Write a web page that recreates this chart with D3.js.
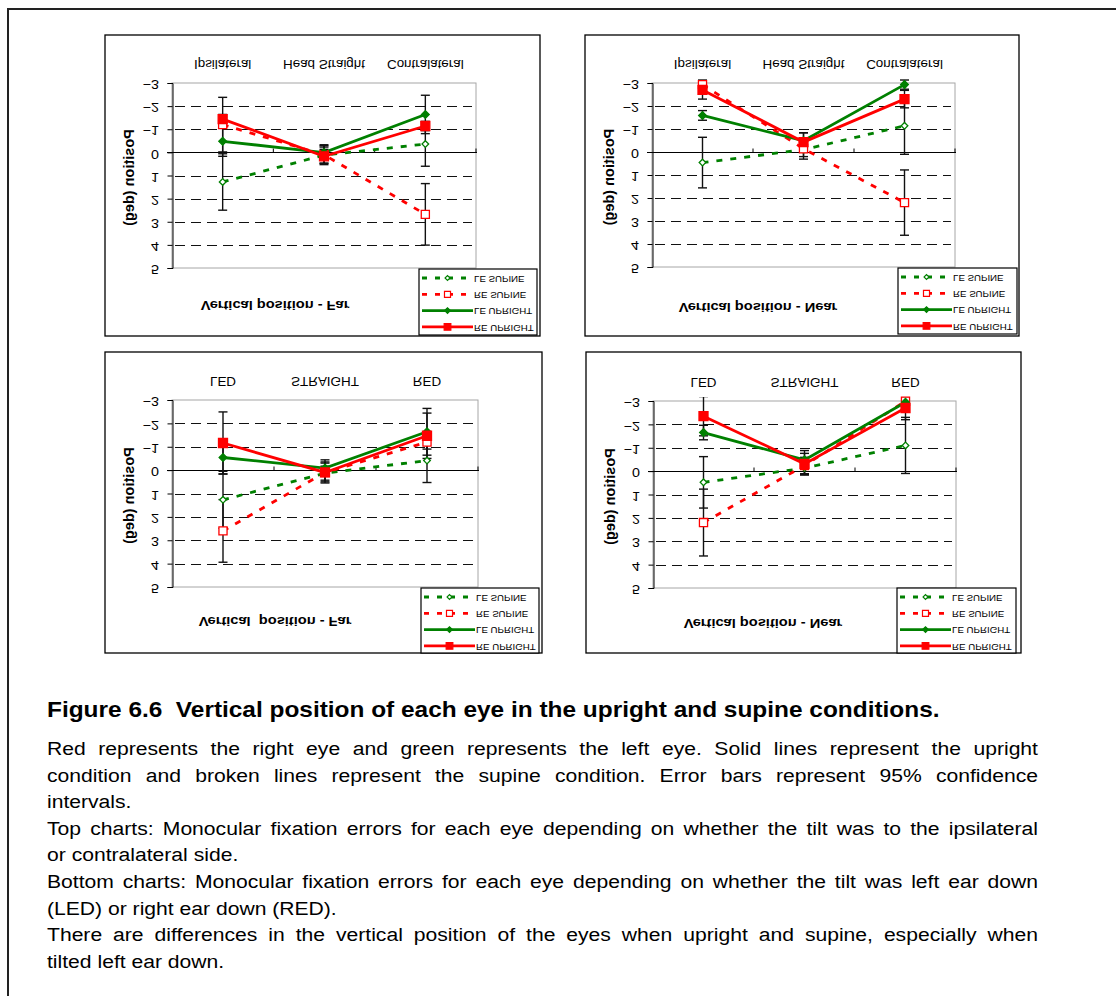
<!DOCTYPE html>
<html><head><meta charset="utf-8">
<script src="https://cdn.jsdelivr.net/npm/d3@7"></script>
<style>
html,body{margin:0;padding:0;background:#fff;}
svg{display:block;font-family:"Liberation Sans",Arial,Helvetica,sans-serif;}
</style>
</head><body>
<svg id="fig" width="1116" height="996"></svg>
<script>
// ---------------- DATA ----------------
const seriesNames = ["LE SUPINE", "RE SUPINE", "LE UPRIGHT", "RE UPRIGHT"];
const categoriesTilt = ["Ipsilateral", "Head Straight", "Contralateral"];
const categoriesEar = ["LED", "STRAIGHT", "RED"];
const yTickValues = [-3, -2, -1, 0, 1, 2, 3, 4, 5];
const panelTitles = ["Vertical position - Far", "Vertical position - Near", "Vertical  position - Far", "Vertical position - Near"];

// Top-left: Far, ipsilateral / contralateral
const farTiltLeSupine  = [1.28, 0.12, -0.36];
const farTiltReSupine  = [-1.20, 0.10, 2.68];
const farTiltLeUpright = [-0.48, 0.01, -1.64];
const farTiltReUpright = [-1.44, 0.17, -1.14];
const farTiltLeSupineErr  = [1.22, 0.35, 0.96];
const farTiltReSupineErr  = [1.18, 0.43, 1.33];
const farTiltLeUprightErr = [0.65, 0.30, 0.83];
const farTiltReUprightErr = [0.20, 0.30, 0.20];

// Top-right: Near, ipsilateral / contralateral
const nearTiltLeSupine  = [0.46, -0.10, -1.14];
const nearTiltReSupine  = [-2.93, -0.14, 2.20];
const nearTiltLeUpright = [-1.59, -0.49, -2.93];
const nearTiltReUpright = [-2.70, -0.43, -2.30];
const nearTiltLeSupineErr  = [1.10, 0.30, 1.24];
const nearTiltReSupineErr  = [0.20, 0.45, 1.42];
const nearTiltLeUprightErr = [0.21, 0.35, 0.20];
const nearTiltReUprightErr = [0.40, 0.40, 0.38];

// Bottom-left: Far, LED / RED
const farEarLeSupine  = [1.27, 0.13, -0.41];
const farEarReSupine  = [2.60, 0.10, -1.20];
const farEarLeUpright = [-0.54, -0.09, -1.64];
const farEarReUpright = [-1.16, 0.10, -1.47];
const farEarLeSupineErr  = [1.22, 0.30, 0.94];
const farEarReSupineErr  = [1.34, 0.45, 0.30];
const farEarLeUprightErr = [0.70, 0.35, 1.00];
const farEarReUprightErr = [1.33, 0.40, 0.97];

// Bottom-right: Near, LED / RED
const nearEarLeSupine  = [0.48, -0.13, -1.10];
const nearEarReSupine  = [2.20, -0.24, -2.99];
const nearEarLeUpright = [-1.65, -0.48, -2.95];
const nearEarReUpright = [-2.35, -0.31, -2.70];
const nearEarLeSupineErr  = [1.10, 0.30, 1.20];
const nearEarReSupineErr  = [1.43, 0.35, 0.17];
const nearEarLeUprightErr = [0.31, 0.40, 0.20];
const nearEarReUprightErr = [0.84, 0.45, 0.50];

const captionTitle = "Figure 6.6  Vertical position of each eye in the upright and supine conditions.";
const captionLines = [
  "Red represents the right eye and green represents the left eye. Solid lines represent the upright",
  "condition and broken lines represent the supine condition. Error bars represent 95% confidence",
  "intervals.",
  "Top charts: Monocular fixation errors for each eye depending on whether the tilt was to the ipsilateral",
  "or contralateral side.",
  "Bottom charts: Monocular fixation errors for each eye depending on whether the tilt was left ear down",
  "(LED) or right ear down (RED).",
  "There are differences in the vertical position of the eyes when upright and supine, especially when",
  "tilted left ear down."
];
const captionJustify = [true, true, false, true, false, true, false, true, false];

// ---------------- STYLE / LAYOUT ----------------
const GREEN = "#008000", RED = "#ff0000";
const seriesStyle = [
  {color: GREEN, dash: "6,8", marker: "diamond", fill: "#fff", size: 22},
  {color: RED,   dash: "6,8", marker: "square",  fill: "#fff", size: 66},
  {color: GREEN, dash: null,  marker: "diamond", fill: GREEN, size: 30},
  {color: RED,   dash: null,  marker: "square",  fill: RED,   size: 81}
];

const panels = [
  {cats: categoriesTilt, title: panelTitles[0],
   values: [farTiltLeSupine, farTiltReSupine, farTiltLeUpright, farTiltReUpright],
   errors: [farTiltLeSupineErr, farTiltReSupineErr, farTiltLeUprightErr, farTiltReUprightErr],
   box: [105, 35, 540, 336], plot: [172, 83, 476, 268], legend: [419, 269, 537, 335], titleX: 275, titleY: 306},
  {cats: categoriesTilt, title: panelTitles[1],
   values: [nearTiltLeSupine, nearTiltReSupine, nearTiltLeUpright, nearTiltReUpright],
   errors: [nearTiltLeSupineErr, nearTiltReSupineErr, nearTiltLeUprightErr, nearTiltReUprightErr],
   box: [585, 35, 1019, 336], plot: [652, 83, 955, 267], legend: [898, 268, 1017, 334], titleX: 758, titleY: 308},
  {cats: categoriesEar, title: panelTitles[2],
   values: [farEarLeSupine, farEarReSupine, farEarLeUpright, farEarReUpright],
   errors: [farEarLeSupineErr, farEarReSupineErr, farEarLeUprightErr, farEarReUprightErr],
   box: [105, 352, 542, 653], plot: [172, 400, 478, 587], legend: [421, 588, 539, 653], titleX: 275, titleY: 622},
  {cats: categoriesEar, title: panelTitles[3],
   values: [nearEarLeSupine, nearEarReSupine, nearEarLeUpright, nearEarReUpright],
   errors: [nearEarLeSupineErr, nearEarReSupineErr, nearEarLeUprightErr, nearEarReUprightErr],
   box: [586, 352, 1021, 653], plot: [653, 401, 956, 588], legend: [897, 588, 1016, 653], titleX: 763, titleY: 624}
];

const svg = d3.select("#fig");
svg.append("rect").attr("width", 1116).attr("height", 996).attr("fill", "#fff");

// outer figure frame (top + left visible)
svg.append("path").attr("d", "M8,996 V9 H1116").attr("fill", "none")
  .attr("stroke", "#222").attr("stroke-width", 2);

function symbolPath(size) {
  return d3.symbol().type(d3.symbolSquare).size(size)();
}

// chart text is mirrored vertically in the source figure
function flipText(g, x, y, txt, opts) {
  return g.append("text")
    .attr("transform", `translate(${x},${y}) scale(${opts.sx || 1.1},-1)`)
    .attr("text-anchor", opts.anchor || "middle")
    .attr("dominant-baseline", "central")
    .attr("font-size", opts.size)
    .attr("font-weight", opts.weight || "normal")
    .attr("fill", "#000")
    .style("white-space", "pre")
    .text(txt);
}

panels.forEach((p, pi) => {
  const g = svg.append("g");
  const [bx0, by0, bx1, by1] = p.box;
  const [px0, py0, px1, py1] = p.plot;

  g.append("rect").attr("x", bx0).attr("y", by0).attr("width", bx1 - bx0).attr("height", by1 - by0)
    .attr("fill", "#fff").attr("stroke", "#000").attr("stroke-width", 1.3);

  const x = d3.scaleBand().domain(p.cats).range([px0, px1]);
  const y = d3.scaleLinear().domain([-3, 5]).range([py0, py1]);

  g.append("rect").attr("x", px0).attr("y", py0).attr("width", px1 - px0).attr("height", py1 - py0)
    .attr("fill", "none").attr("stroke", "#a6a6a6").attr("stroke-width", 1);

  g.append("g").selectAll("line").data(yTickValues.filter(v => v !== 0 && v !== -3 && v !== 5)).join("line")
    .attr("x1", px0 + 3).attr("x2", px1 - 4)
    .attr("y1", d => Math.round(y(d)) + 0.5).attr("y2", d => Math.round(y(d)) + 0.5)
    .attr("stroke", "#111").attr("stroke-width", 1).attr("stroke-dasharray", "10,6");

  const yAxis = d3.axisLeft(y).tickValues(yTickValues).tickSize(5).tickFormat("");
  const ya = g.append("g").attr("transform", `translate(${px0 + 0.5},0)`).call(yAxis);
  ya.select(".domain").attr("stroke", "#000");
  ya.selectAll(".tick line").attr("stroke", "#000");
  yTickValues.forEach(v => {
    flipText(g, px0 - 13, y(v) + 1.5, d3.format("d")(v), {size: 13, anchor: "end"});
  });

  const zy = Math.round(y(0)) + 0.5;
  g.append("line").attr("x1", px0 - 5).attr("x2", px1 + 1).attr("y1", zy).attr("y2", zy)
    .attr("stroke", "#000").attr("stroke-width", 1);
  g.append("g").selectAll("line").data(p.cats).join("line")
    .attr("x1", d => x(d) + x.bandwidth()).attr("x2", d => x(d) + x.bandwidth())
    .attr("y1", zy).attr("y2", zy - 4).attr("stroke", "#000");

  p.cats.forEach(c => {
    flipText(g, x(c) + x.bandwidth() / 2, py0 - 19, c, {size: 12.2});
  });

  g.append("text")
    .attr("transform", `translate(${px0 - 43},${(py0 + py1) / 2 + 2}) scale(1,-1) rotate(-90)`)
    .attr("text-anchor", "middle").attr("dominant-baseline", "central")
    .attr("font-size", 14.5).attr("font-weight", "bold").text("Position (deg)");

  flipText(g, p.titleX, p.titleY, p.title, {size: 13.3, weight: "bold"});

  const clipId = "clip" + pi;
  g.append("clipPath").attr("id", clipId).append("rect")
    .attr("x", px0 - 10).attr("y", py0 - 4).attr("width", px1 - px0 + 20).attr("height", py1 - py0 + 4);

  const cx = c => x(c) + x.bandwidth() / 2;

  const eg = g.append("g").attr("clip-path", `url(#${clipId})`);
  p.values.forEach((vals, si) => {
    vals.forEach((v, ci) => {
      const e = p.errors[si][ci];
      const xc = cx(p.cats[ci]);
      const ylo = y(v - e), yhi = y(v + e);
      eg.append("line").attr("x1", xc).attr("x2", xc).attr("y1", ylo).attr("y2", yhi)
        .attr("stroke", "#111").attr("stroke-width", 1.4);
      [ylo, yhi].forEach(yy => eg.append("line").attr("x1", xc - 4.5).attr("x2", xc + 4.5)
        .attr("y1", yy).attr("y2", yy).attr("stroke", "#111").attr("stroke-width", 1.4));
    });
  });

  const line = d3.line().x((d, i) => cx(p.cats[i])).y(d => y(d));
  p.values.forEach((vals, si) => {
    const st = seriesStyle[si];
    g.append("path").attr("d", line(vals)).attr("fill", "none")
      .attr("stroke", st.color).attr("stroke-width", 2.8)
      .attr("stroke-dasharray", st.dash);
  });
  p.values.forEach((vals, si) => {
    const st = seriesStyle[si];
    vals.forEach((v, ci) => {
      g.append("path").attr("d", symbolPath(st.size))
        .attr("transform", `translate(${cx(p.cats[ci])},${y(v)})` + (st.marker === "diamond" ? " rotate(45)" : ""))
        .attr("fill", st.fill).attr("stroke", st.color).attr("stroke-width", 1.3);
    });
  });

  const [lx0, ly0, lx1, ly1] = p.legend;
  const lg = g.append("g");
  lg.append("rect").attr("x", lx0).attr("y", ly0).attr("width", lx1 - lx0).attr("height", ly1 - ly0)
    .attr("fill", "#fff").attr("stroke", "#000").attr("stroke-width", 1.2);
  seriesNames.forEach((name, si) => {
    const st = seriesStyle[si];
    const ry = ly0 + 9 + si * 16.3;
    lg.append("line").attr("x1", lx0 + 3).attr("x2", lx0 + 54).attr("y1", ry).attr("y2", ry)
      .attr("stroke", st.color).attr("stroke-width", 2.8).attr("stroke-dasharray", st.dash ? "5,8" : null);
    lg.append("path").attr("d", symbolPath(st.size * 0.55))
      .attr("transform", `translate(${lx0 + 28.5},${ry})` + (st.marker === "diamond" ? " rotate(45)" : ""))
      .attr("fill", st.fill).attr("stroke", st.color).attr("stroke-width", 1.2);
    flipText(lg, lx0 + 55, ry + 0.5, name, {size: 8.8, anchor: "start"});
  });
});

// ---------------- CAPTION ----------------
const SX = 1.1;
const capG = svg.append("g").attr("transform", `translate(47,0) scale(${SX},1)`);
capG.append("text").attr("x", 0).attr("y", 717).attr("font-size", 22.2).attr("font-weight", "bold")
  .style("white-space", "pre").text(captionTitle);

const lineWidth = (1038 - 47) / SX;
captionLines.forEach((ln, i) => {
  const yy = 755 + i * 26.6;
  if (!captionJustify[i]) {
    capG.append("text").attr("x", 0).attr("y", yy).attr("font-size", 19.2).text(ln);
    return;
  }
  const words = ln.split(" ");
  const nodes = words.map(w => capG.append("text").attr("y", yy).attr("font-size", 19.2).text(w));
  const widths = nodes.map(n => n.node().getComputedTextLength());
  const total = d3.sum(widths);
  const gap = (lineWidth - total) / (words.length - 1);
  let cur = 0;
  nodes.forEach((n, k) => { n.attr("x", cur); cur += widths[k] + gap; });
});
</script>
</body></html>
